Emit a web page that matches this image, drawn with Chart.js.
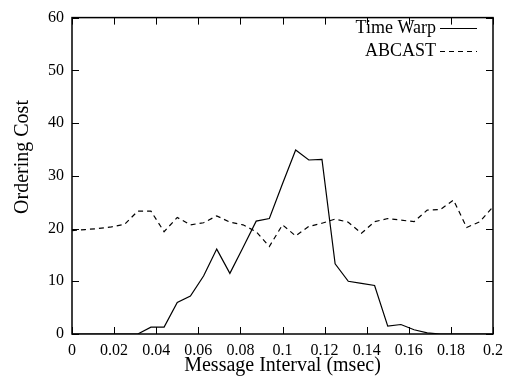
<!DOCTYPE html>
<html>
<head>
<meta charset="utf-8">
<script src="https://cdn.jsdelivr.net/npm/chart.js@4.4.1/dist/chart.umd.min.js"></script>
<style>
  html, body { margin: 0; padding: 0; background: #ffffff; }
  #wrap { width: 513px; height: 383px; }
</style>
</head>
<body>
<div id="wrap"><canvas id="costChart" width="513" height="383"></canvas></div>
<script>
// Message interval (msec) sampled along the x axis
const intervals = [0, 0.00625, 0.0125, 0.01875, 0.025, 0.03125, 0.0375, 0.04375, 0.05, 0.05625,
    0.0625, 0.06875, 0.075, 0.08125, 0.0875, 0.09375, 0.1, 0.10625, 0.1125, 0.11875,
    0.125, 0.13125, 0.1375, 0.14375, 0.15, 0.15625, 0.1625, 0.16875, 0.175, 0.18125,
    0.1875, 0.19375, 0.2];

const timeWarp = [0, 0, 0, 0, 0, 0, 1.3, 1.3, 6.0, 7.2,
    11.0, 16.1, 11.5, 16.4, 21.4, 21.9, 28.5, 34.9, 33.0, 33.1,
    13.3, 10.0, 9.6, 9.2, 1.5, 1.8, 0.8, 0.2, 0, 0,
    0, 0, 0];

const abcast = [19.6, 19.8, 20.0, 20.3, 20.8, 23.3, 23.3, 19.4, 22.1, 20.7,
    21.1, 22.4, 21.2, 20.7, 19.4, 16.6, 20.7, 18.6, 20.4, 21.0,
    21.8, 21.2, 19.1, 21.3, 21.9, 21.6, 21.3, 23.5, 23.6, 25.4,
    20.2, 21.3, 24.1];

const xTicks = [0, 0.02, 0.04, 0.06, 0.08, 0.1, 0.12, 0.14, 0.16, 0.18, 0.2];
const yTicks = [0, 10, 20, 30, 40, 50, 60];

const serif = "'Liberation Serif', 'Times New Roman', serif";

function toPoints(values) {
    return values.map((v, i) => ({ x: intervals[i], y: v }));
}

// Frame, inward ticks, axis titles and the gnuplot-style legend
const framePlugin = {
    id: 'frame',
    afterDraw(chart) {
        const { ctx, chartArea: a, scales } = chart;
        ctx.save();
        ctx.strokeStyle = '#000';
        ctx.lineWidth = 1.5;
        ctx.strokeRect(a.left, a.top, a.right - a.left, a.bottom - a.top);

        ctx.lineWidth = 1;
        const len = 7;
        ctx.beginPath();
        xTicks.forEach(t => {
            const px = Math.round(scales.x.getPixelForValue(t)) + 0.5;
            ctx.moveTo(px, a.bottom); ctx.lineTo(px, a.bottom - len);
            ctx.moveTo(px, a.top); ctx.lineTo(px, a.top + len);
        });
        yTicks.forEach(t => {
            const py = Math.round(scales.y.getPixelForValue(t)) + 0.5;
            ctx.moveTo(a.left, py); ctx.lineTo(a.left + len, py);
            ctx.moveTo(a.right, py); ctx.lineTo(a.right - len, py);
        });
        ctx.stroke();

        // axis titles
        ctx.fillStyle = '#000';
        ctx.font = '20px ' + serif;
        ctx.textAlign = 'center';
        ctx.textBaseline = 'middle';
        ctx.fillText('Message Interval (msec)', (a.left + a.right) / 2, 366);
        ctx.save();
        ctx.translate(23, 157);
        ctx.rotate(-Math.PI / 2);
        ctx.fillText('Ordering Cost', 0, 0);
        ctx.restore();

        // legend
        ctx.font = '18px ' + serif;
        ctx.textAlign = 'right';
        chart.data.datasets.forEach((ds, i) => {
            const y = 28 + i * 23;
            ctx.fillText(ds.label, 436, y);
            ctx.beginPath();
            ctx.lineWidth = 1.2;
            ctx.setLineDash(ds.borderDash || []);
            ctx.moveTo(440, y + 0.5);
            ctx.lineTo(477, y + 0.5);
            ctx.stroke();
        });
        ctx.setLineDash([]);
        ctx.restore();
    }
};

new Chart(document.getElementById('costChart').getContext('2d'), {
    type: 'line',
    data: {
        datasets: [{
            label: 'Time Warp',
            data: toPoints(timeWarp),
            borderColor: '#000',
            borderWidth: 1.2,
            pointRadius: 0,
            tension: 0,
            fill: false
        }, {
            label: 'ABCAST',
            data: toPoints(abcast),
            borderColor: '#000',
            borderWidth: 1.2,
            borderDash: [5, 4],
            pointRadius: 0,
            tension: 0,
            fill: false
        }]
    },
    options: {
        responsive: false,
        animation: false,
        layout: { padding: { top: 13, right: 20, left: 0, bottom: 0 } },
        plugins: {
            legend: { display: false },
            tooltip: { enabled: false }
        },
        scales: {
            x: {
                type: 'linear',
                min: 0,
                max: 0.2,
                afterFit: s => { s.height = 49; },
                afterBuildTicks: s => { s.ticks = xTicks.map(v => ({ value: v })); },
                grid: { display: false, drawTicks: false },
                border: { display: false },
                ticks: {
                    color: '#000',
                    padding: 7,
                    maxRotation: 0,
                    autoSkip: false,
                    font: { family: serif, size: 16 },
                    callback: v => String(Number(v.toFixed(2)))
                }
            },
            y: {
                min: 0,
                max: 60,
                afterFit: s => { s.width = 72; },
                afterBuildTicks: s => { s.ticks = yTicks.map(v => ({ value: v })); },
                grid: { display: false, drawTicks: false },
                border: { display: false },
                ticks: {
                    color: '#000',
                    padding: 8,
                    font: { family: serif, size: 16 }
                }
            }
        }
    },
    plugins: [framePlugin]
});
</script>
</body>
</html>
